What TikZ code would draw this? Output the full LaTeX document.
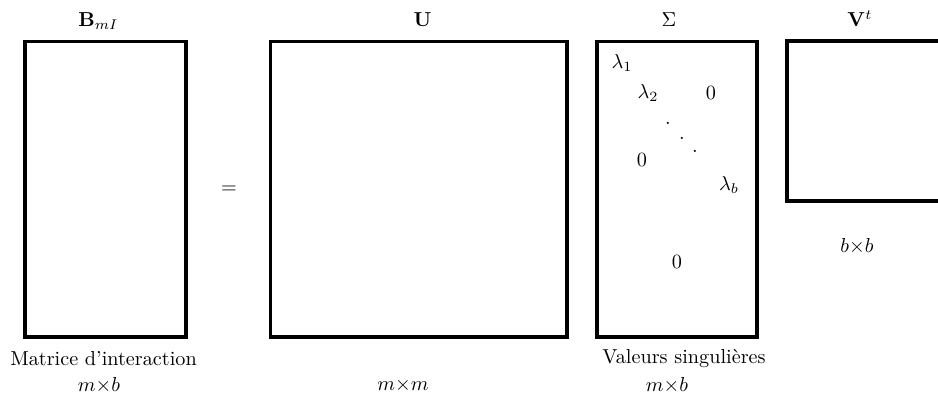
\documentclass[tikz,border=0pt]{standalone}
\usepackage{amsmath,amssymb}
\usepackage{tikz}
\usetikzlibrary{positioning}

\begin{document}
\begin{tikzpicture}[
    x=0.495pt, y=-0.495pt,
    matbox/.style={rectangle, draw, line width=1.5pt, inner sep=0pt},
    title/.style={inner sep=0pt, text depth=0pt},
    caption/.style={inner sep=0pt, text depth=0pt, anchor=base},
    entry/.style={inner sep=0pt}
  ]
    \useasboundingbox (0,0) rectangle (938,397);

    % Matrices
    \node[matbox, minimum width=79.7pt, minimum height=146.5pt] (bmi) at (105.5,189) {};
    \node[matbox, minimum width=147pt, minimum height=146.5pt] (umat) at (418.5,189) {};
    \node[matbox, minimum width=79.2pt, minimum height=146.5pt] (sigma) at (677,189) {};
    \node[matbox, minimum width=79.2pt, minimum height=79.2pt] (vt) at (867,121) {};

    % Titles
    \node[title, above=6.2pt of bmi, xshift=-3.5pt] (bmititle) {$\mathbf{B}_{mI}$};
    \node[title, above=6.2pt of umat, xshift=2pt] (utitle) {$\mathbf{U}$};
    \node[title, above=6.2pt of sigma, xshift=-4pt] (sigmatitle) {$\Sigma$};
    \node[title, above=6.2pt of vt, xshift=-3.5pt] (vttitle) {$\mathbf{V}^t$};

    \node (equal) at (229,190) {$=$};

    % Entries of Sigma
    \node[entry] (lambda1) at (622,63) {$\lambda_1$};
    \node[entry] (lambda2) at (648,93) {$\lambda_2$};
    \node[entry] (zeroup) at (711,93) {$0$};
    \foreach \i/\x/\y in {1/668/123, 2/682/138, 3/695/151}
      \node[entry] (dot\i) at (\x,\y) {.};
    \node[entry] (zerolow) at (642,160) {$0$};
    \node[entry] (lambdab) at (729,185) {$\lambda_b$};
    \node[entry] (zerobot) at (677,262) {$0$};

    % Captions
    \node[caption] (bmicap) at (103.5,365) {Matrice d'interaction};
    \node[caption] (bmidim) at (99,391) {$m{\times}b$};
    \node[caption] (udim) at (403,390) {$m{\times}m$};
    \node[caption] (sigmacap) at (684,363) {Valeurs singulières};
    \node[caption] (sigmadim) at (667,391) {$m{\times}b$};
    \node[caption] (vtdim) at (857,252) {$b{\times}b$};
  \end{tikzpicture}
\end{document}
